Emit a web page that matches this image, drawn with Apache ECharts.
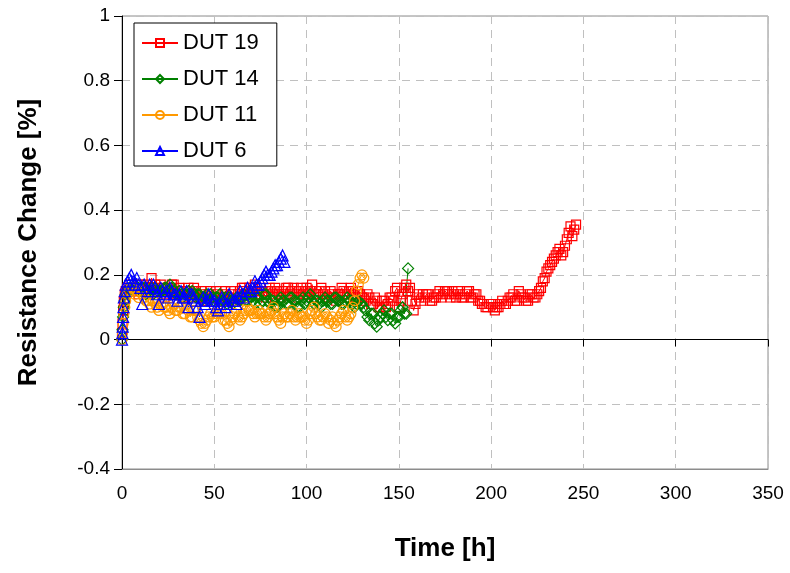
<!DOCTYPE html>
<html>
<head>
<meta charset="utf-8">
<script src="https://cdn.jsdelivr.net/npm/echarts@6/dist/echarts.min.js"></script>
<style>
  html, body { margin: 0; padding: 0; background: #fff; }
  #chart { width: 790px; height: 573px; }
</style>
</head>
<body>
<div id="chart"></div>
<script>
// Resistance change over time for four devices under test
const yTicks = [-0.4, -0.2, 0, 0.2, 0.4, 0.6, 0.8, 1];
const xTicks = [0, 50, 100, 150, 200, 250, 300, 350];

const seriesNames = ['DUT 19', 'DUT 14', 'DUT 11', 'DUT 6'];

// DUT 19 readings (hours, %)
const time19 = [0, 0.3, 0.6, 1, 1.5, 2, 3, 4, 5, 6, 7, 8, 9,
  10, 11, 12, 13, 14, 15, 16, 17, 18, 19,
  20, 21, 22, 23, 24, 25, 26, 27, 28, 29,
  30, 31, 32, 33, 34, 35, 36, 37, 38, 39,
  40, 41, 42, 43, 44, 45, 46, 47, 48, 49,
  50, 51, 52, 53, 54, 55, 56, 57, 58, 59,
  60, 61, 62, 63, 64, 65, 66, 67, 68, 69,
  70, 71, 72, 73, 74, 75, 76, 77, 78, 79,
  80, 81, 82, 83, 84, 85, 86, 87, 88, 89,
  90, 91, 92, 93, 94, 95, 96, 97, 98, 99,
  100, 101, 102, 103, 104, 105, 106, 107, 108, 109,
  110, 111, 112, 113, 114, 115, 116, 117, 118, 119,
  120, 121, 122, 123, 124, 125, 126, 127, 128, 129,
  130, 131, 132, 133, 134, 135, 136, 137, 138, 139,
  140, 141, 142, 143, 144, 145, 146, 147, 148, 149,
  150, 151, 152, 153, 154, 155, 156, 157, 158, 159,
  160, 161, 162, 163, 164, 165, 166, 167, 168, 169,
  170, 171, 172, 173, 174, 175, 176, 177, 178, 179,
  180, 181, 182, 183, 184, 185, 186, 187, 188, 189,
  190, 191, 192, 193, 194, 195, 196, 197, 198, 199,
  200, 201, 202, 203, 204, 205, 206, 207, 208, 209,
  210, 211, 212, 213, 214, 215, 216, 217, 218, 219,
  220, 221, 222, 223, 224, 225, 226, 227, 228, 229,
  230, 231, 232, 233, 234, 235, 236, 237, 238, 239,
  240, 241, 242, 243, 244, 245, 246];
const res19 = [0.02, 0.05, 0.09, 0.12, 0.14, 0.15, 0.16, 0.17, 0.15, 0.16, 0.15, 0.16, 0.14,
  0.17, 0.15, 0.15, 0.17, 0.16, 0.14, 0.19, 0.16, 0.17, 0.15,
  0.15, 0.17, 0.16, 0.13, 0.14, 0.16, 0.15, 0.17, 0.17, 0.14,
  0.14, 0.16, 0.15, 0.13, 0.13, 0.15, 0.16, 0.14, 0.14, 0.16,
  0.15, 0.13, 0.13, 0.15, 0.14, 0.12, 0.12, 0.14, 0.15, 0.13,
  0.13, 0.15, 0.14, 0.12, 0.12, 0.14, 0.15, 0.13, 0.13, 0.15,
  0.14, 0.12, 0.12, 0.14, 0.15, 0.16, 0.16, 0.14, 0.14, 0.16,
  0.15, 0.16, 0.17, 0.15, 0.14, 0.16, 0.15, 0.14, 0.13, 0.15,
  0.16, 0.15, 0.14, 0.16, 0.15, 0.14, 0.13, 0.15, 0.14, 0.16,
  0.16, 0.14, 0.15, 0.16, 0.13, 0.14, 0.15, 0.16, 0.14, 0.15,
  0.16, 0.14, 0.15, 0.17, 0.13, 0.14, 0.14, 0.15, 0.16, 0.14,
  0.15, 0.13, 0.13, 0.15, 0.14, 0.13, 0.12, 0.14, 0.14, 0.16,
  0.15, 0.14, 0.13, 0.15, 0.16, 0.15, 0.14, 0.13, 0.15, 0.14,
  0.13, 0.13, 0.12, 0.14, 0.13, 0.11, 0.11, 0.13, 0.12, 0.10,
  0.10, 0.12, 0.12, 0.10, 0.11, 0.13, 0.13, 0.12, 0.15, 0.16,
  0.10, 0.12, 0.14, 0.16, 0.17, 0.15, 0.16, 0.12, 0.09, 0.11,
  0.14, 0.13, 0.12, 0.14, 0.13, 0.14, 0.14, 0.12, 0.12, 0.13,
  0.13, 0.14, 0.15, 0.13, 0.14, 0.15, 0.15, 0.14, 0.13, 0.15,
  0.14, 0.13, 0.15, 0.14, 0.13, 0.13, 0.14, 0.15, 0.15, 0.13,
  0.13, 0.14, 0.14, 0.12, 0.12, 0.11, 0.11, 0.10, 0.10, 0.11,
  0.11, 0.10, 0.09, 0.10, 0.10, 0.11, 0.12, 0.11, 0.11, 0.12,
  0.13, 0.13, 0.14, 0.12, 0.12, 0.15, 0.14, 0.13, 0.13, 0.12,
  0.12, 0.14, 0.14, 0.13, 0.13, 0.14, 0.15, 0.16, 0.18, 0.19,
  0.21, 0.22, 0.23, 0.24, 0.25, 0.26, 0.27, 0.28, 0.26, 0.27,
  0.29, 0.31, 0.33, 0.35, 0.32, 0.34, 0.355];

// DUT 14 readings
const time14 = [0, 0.3, 0.6, 1, 1.5, 2, 3, 4, 5, 6, 7, 8, 9,
  10, 11, 12, 13, 14, 15, 16, 17, 18, 19,
  20, 21, 22, 23, 24, 25, 26, 27, 28, 29,
  30, 31, 32, 33, 34, 35, 36, 37, 38, 39,
  40, 41, 42, 43, 44, 45, 46, 47, 48, 49,
  50, 51, 52, 53, 54, 55, 56, 57, 58, 59,
  60, 61, 62, 63, 64, 65, 66, 67, 68, 69,
  70, 71, 72, 73, 74, 75, 76, 77, 78, 79,
  80, 81, 82, 83, 84, 85, 86, 87, 88, 89,
  90, 91, 92, 93, 94, 95, 96, 97, 98, 99,
  100, 101, 102, 103, 104, 105, 106, 107, 108, 109,
  110, 111, 112, 113, 114, 115, 116, 117, 118, 119,
  120, 121, 122, 123, 124, 125, 126, 127, 128, 129,
  130, 131, 132, 133, 134, 135, 136, 137, 138, 139,
  140, 141, 142, 143, 144, 145, 146, 147, 148, 149,
  150, 151, 152, 153, 154, 155];
const res14 = [0.00, 0.03, 0.07, 0.10, 0.12, 0.14, 0.15, 0.16, 0.15, 0.16, 0.17, 0.16, 0.15,
  0.15, 0.16, 0.16, 0.14, 0.15, 0.15, 0.16, 0.14, 0.16, 0.15,
  0.14, 0.15, 0.15, 0.16, 0.16, 0.15, 0.17, 0.16, 0.15, 0.14,
  0.14, 0.15, 0.14, 0.13, 0.14, 0.14, 0.15, 0.13, 0.15, 0.14,
  0.13, 0.14, 0.14, 0.12, 0.13, 0.13, 0.14, 0.12, 0.14, 0.13,
  0.12, 0.13, 0.13, 0.14, 0.12, 0.12, 0.13, 0.11, 0.13, 0.12,
  0.11, 0.12, 0.13, 0.12, 0.12, 0.13, 0.14, 0.12, 0.12, 0.13,
  0.13, 0.12, 0.11, 0.13, 0.13, 0.11, 0.12, 0.14, 0.14, 0.12,
  0.11, 0.12, 0.12, 0.10, 0.10, 0.12, 0.13, 0.12, 0.12, 0.11,
  0.11, 0.13, 0.13, 0.12, 0.12, 0.10, 0.10, 0.12, 0.13, 0.11,
  0.12, 0.13, 0.14, 0.12, 0.11, 0.12, 0.12, 0.11, 0.10, 0.12,
  0.13, 0.12, 0.12, 0.11, 0.11, 0.13, 0.13, 0.12, 0.12, 0.11,
  0.11, 0.12, 0.13, 0.12, 0.12, 0.11, 0.10, 0.11, 0.12, 0.11,
  0.11, 0.10, 0.09, 0.07, 0.06, 0.08, 0.08, 0.05, 0.04, 0.06,
  0.07, 0.08, 0.09, 0.07, 0.06, 0.08, 0.08, 0.06, 0.05, 0.07,
  0.07, 0.09, 0.10, 0.08, 0.08, 0.22];

// DUT 11 readings
const time11 = [0, 0.3, 0.6, 1, 1.5, 2, 3, 4, 5, 6, 7, 8, 9,
  10, 11, 12, 13, 14, 15, 16, 17, 18, 19,
  20, 21, 22, 23, 24, 25, 26, 27, 28, 29,
  30, 31, 32, 33, 34, 35, 36, 37, 38, 39,
  40, 41, 42, 43, 44, 45, 46, 47, 48, 49,
  50, 51, 52, 53, 54, 55, 56, 57, 58, 59,
  60, 61, 62, 63, 64, 65, 66, 67, 68, 69,
  70, 71, 72, 73, 74, 75, 76, 77, 78, 79,
  80, 81, 82, 83, 84, 85, 86, 87, 88, 89,
  90, 91, 92, 93, 94, 95, 96, 97, 98, 99,
  100, 101, 102, 103, 104, 105, 106, 107, 108, 109,
  110, 111, 112, 113, 114, 115, 116, 117, 118, 119,
  120, 121, 122, 123, 124, 125, 126, 127, 128, 129,
  130, 131];
const res11 = [0.00, 0.02, 0.05, 0.08, 0.10, 0.12, 0.14, 0.15, 0.16, 0.16, 0.14, 0.15, 0.13,
  0.15, 0.14, 0.13, 0.12, 0.12, 0.11, 0.10, 0.12, 0.12, 0.10,
  0.09, 0.11, 0.11, 0.10, 0.10, 0.09, 0.08, 0.10, 0.11, 0.09,
  0.09, 0.10, 0.10, 0.08, 0.08, 0.11, 0.09, 0.07, 0.07, 0.09,
  0.09, 0.07, 0.06, 0.05, 0.04, 0.05, 0.06, 0.07, 0.08, 0.07,
  0.07, 0.08, 0.09, 0.08, 0.08, 0.06, 0.06, 0.05, 0.04, 0.06,
  0.07, 0.08, 0.09, 0.07, 0.06, 0.07, 0.08, 0.09, 0.10, 0.09,
  0.09, 0.08, 0.07, 0.08, 0.09, 0.08, 0.08, 0.07, 0.06, 0.07,
  0.08, 0.09, 0.10, 0.08, 0.07, 0.06, 0.05, 0.07, 0.08, 0.07,
  0.07, 0.08, 0.09, 0.07, 0.06, 0.07, 0.08, 0.07, 0.07, 0.06,
  0.05, 0.06, 0.08, 0.09, 0.10, 0.08, 0.07, 0.06, 0.06, 0.07,
  0.08, 0.07, 0.05, 0.06, 0.07, 0.05, 0.04, 0.06, 0.07, 0.08,
  0.09, 0.07, 0.06, 0.07, 0.08, 0.10, 0.12, 0.15, 0.17, 0.19,
  0.20, 0.19];

// DUT 6 readings
const time6 = [0, 0.2, 0.4, 0.6, 0.8, 1, 1.5, 2, 3, 4, 5, 6, 7, 8, 9,
  10, 11, 12, 13, 14, 15, 16, 17, 18, 19,
  20, 21, 22, 23, 24, 25, 26, 27, 28, 29,
  30, 31, 32, 33, 34, 35, 36, 37, 38, 39,
  40, 41, 42, 43, 44, 45, 46, 47, 48, 49,
  50, 51, 52, 53, 54, 55, 56, 57, 58, 59,
  60, 61, 62, 63, 64, 65, 66, 67, 68, 69,
  70, 71, 72, 73, 74, 75, 76, 77, 78, 79,
  80, 81, 82, 83, 84, 85, 86, 87, 88];
const res6 = [0.00, 0.02, 0.04, 0.07, 0.10, 0.13, 0.15, 0.17, 0.18, 0.19, 0.20, 0.18, 0.17, 0.19, 0.17,
  0.16, 0.11, 0.17, 0.16, 0.15, 0.17, 0.15, 0.17, 0.16, 0.14,
  0.11, 0.16, 0.15, 0.14, 0.15, 0.13, 0.16, 0.15, 0.14, 0.14,
  0.12, 0.14, 0.15, 0.13, 0.13, 0.15, 0.10, 0.14, 0.14, 0.13,
  0.12, 0.10, 0.07, 0.12, 0.13, 0.11, 0.12, 0.14, 0.13, 0.12,
  0.12, 0.10, 0.09, 0.11, 0.13, 0.12, 0.10, 0.11, 0.14, 0.13,
  0.12, 0.12, 0.11, 0.13, 0.15, 0.14, 0.13, 0.15, 0.16, 0.15,
  0.15, 0.16, 0.18, 0.17, 0.17, 0.18, 0.19, 0.20, 0.21, 0.20,
  0.20, 0.21, 0.22, 0.23, 0.23, 0.24, 0.25, 0.26, 0.24];

const FONT = '"Liberation Sans", Arial, sans-serif';

function pairs(ts, vs) {
  return ts.map((t, i) => [t, vs[i]]);
}

function makeSeries(name, ts, vs, color, symbol, size) {
  return {
    name: name,
    type: 'line',
    data: pairs(ts, vs),
    symbol: symbol,
    symbolSize: size,
    showAllSymbol: true,
    xAxisIndex: 0,
    yAxisIndex: 0,
    lineStyle: { color: color, width: 1 },
    itemStyle: { color: 'rgba(255,255,255,0)', borderColor: color, borderWidth: 1.2 },
    emphasis: { disabled: true }
  };
}

const chart = echarts.init(document.getElementById('chart'), null, { renderer: 'canvas' });

chart.setOption({
  animation: false,
  backgroundColor: '#ffffff',
  grid: {
    left: 122, right: 22, top: 16, bottom: 104,
    show: true, borderColor: '#8c8c8c', borderWidth: 1, backgroundColor: '#ffffff'
  },
  legend: {
    data: seriesNames,
    orient: 'vertical',
    left: 134,
    top: 23,
    itemWidth: 36,
    itemHeight: 10,
    itemGap: 14,
    padding: [9, 18, 4, 7],
    backgroundColor: '#ffffff',
    borderColor: '#000000',
    borderWidth: 1,
    borderRadius: 0,
    textStyle: { fontFamily: FONT, fontSize: 22, color: '#000' },
    selectedMode: false
  },
  xAxis: [
    {
      type: 'value',
      position: 'bottom',
      min: xTicks[0], max: xTicks[xTicks.length - 1], interval: 50,
      axisLine: { onZero: false, show: true, lineStyle: { color: '#8c8c8c', width: 1 } },
      axisTick: { show: false },
      axisLabel: { fontFamily: FONT, fontSize: 19, color: '#000', margin: 15 },
      splitLine: { show: true, lineStyle: { color: '#c0c0c0', type: [8, 6], width: 1 } },
      name: 'Time [h]',
      nameLocation: 'middle',
      nameGap: 67,
      nameTextStyle: { fontFamily: FONT, fontSize: 26, fontWeight: 'bold', color: '#000' }
    },
    {
      type: 'value',
      position: 'top',
      min: xTicks[0], max: xTicks[xTicks.length - 1], interval: 50,
      axisLine: { onZero: true, show: true, lineStyle: { color: '#000', width: 1 } },
      axisTick: { show: true, inside: true, length: 7, lineStyle: { color: '#000' } },
      axisLabel: { show: false },
      splitLine: { show: false }
    }
  ],
  yAxis: {
    type: 'value',
    min: yTicks[0], max: yTicks[yTicks.length - 1], interval: 0.2,
    axisLine: { show: true, onZero: false, lineStyle: { color: '#000', width: 1 } },
    axisTick: { show: true, length: 8, lineStyle: { color: '#000' } },
    axisLabel: { fontFamily: FONT, fontSize: 19, color: '#000', margin: 12 },
    splitLine: { show: true, lineStyle: { color: '#c0c0c0', type: [8, 6], width: 1 } },
    name: 'Resistance Change [%]',
    nameLocation: 'middle',
    nameGap: 80,
    nameTextStyle: { fontFamily: FONT, fontSize: 26, fontWeight: 'bold', color: '#000' }
  },
  series: [
    makeSeries(seriesNames[0], time19, res19, '#ff0000', 'rect', 9),
    makeSeries(seriesNames[1], time14, res14, '#008000', 'diamond', 11),
    makeSeries(seriesNames[2], time11, res11, '#ff9900', 'circle', 10),
    makeSeries(seriesNames[3], time6, res6, '#0000ff', 'triangle', 11)
  ]
});
</script>
</body>
</html>
